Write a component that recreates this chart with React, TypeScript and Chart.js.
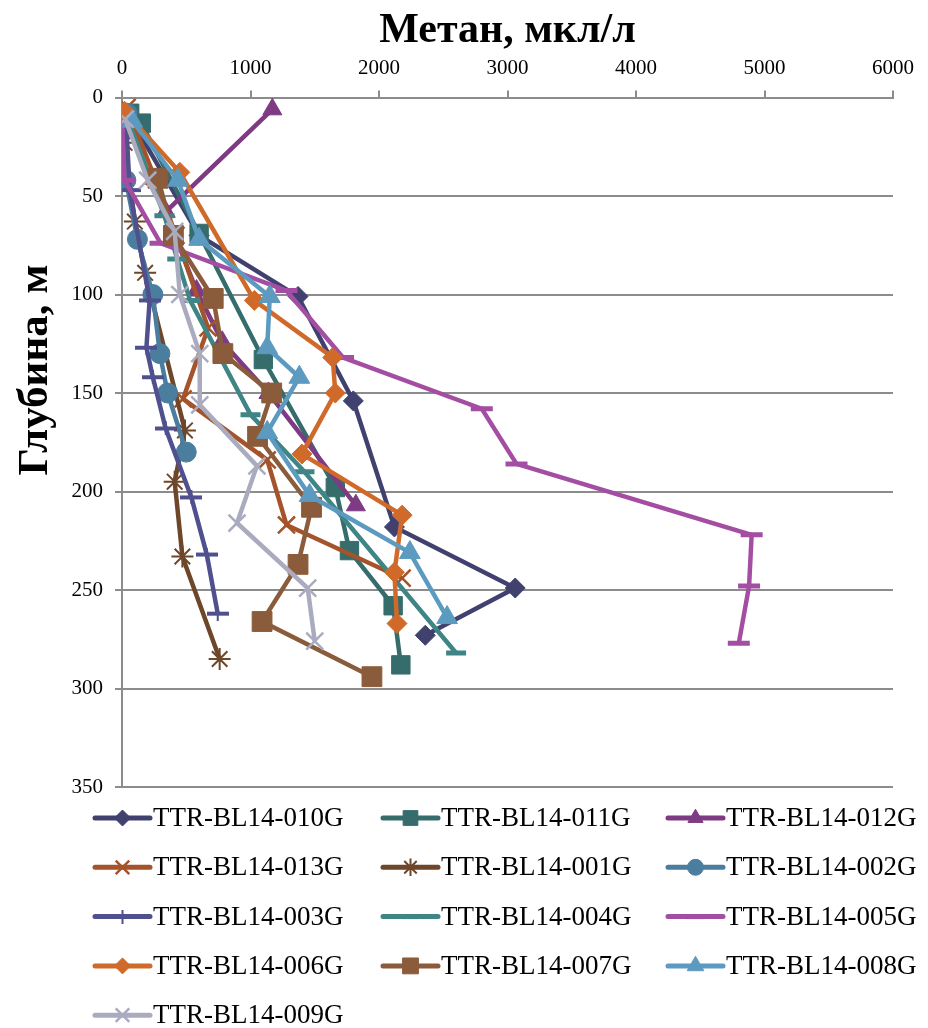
import React, { useEffect, useRef } from 'react';
import { Chart, registerables } from 'chart.js';
import { drawPoint } from 'chart.js/helpers';

Chart.register(...registerables);

const FONT = "'Liberation Serif', 'Times New Roman', serif";

const seriesNames = [
  'TTR-BL14-010G', 'TTR-BL14-011G', 'TTR-BL14-012G',
  'TTR-BL14-013G', 'TTR-BL14-001G', 'TTR-BL14-002G',
  'TTR-BL14-003G', 'TTR-BL14-004G', 'TTR-BL14-005G',
  'TTR-BL14-006G', 'TTR-BL14-007G', 'TTR-BL14-008G',
  'TTR-BL14-009G',
];

const seriesColors = [
  '#41416f', '#366c6c', '#7e3b84',
  '#a5532a', '#6e4629', '#4a7d9e',
  '#50508f', '#3f8585', '#a34ea3',
  '#d06a2a', '#8b5c3b', '#5c9ac0',
  '#ababc0',
];

// methane (мкл/л) and depth (м) for each station
const methane010 = [60, 600, 1370, 1800, 2120, 3060, 2360];
const depth010 = [10, 70, 101, 154, 218, 249, 273];
const methane011 = [60, 150, 600, 1100, 1660, 1770, 2110, 2170];
const depth011 = [8, 13, 69, 133, 198, 230, 258, 288];
const methane012 = [1170, 340, 580, 780, 1140, 1820];
const depth012 = [6, 58, 98, 124, 150, 207];
const methane013 = [40, 250, 420, 670, 475, 1130, 1280, 2180];
const depth013 = [5, 40, 70, 117, 153, 184, 217, 244];
const methane001 = [20, 100, 180, 490, 410, 470, 760];
const depth001 = [23, 63, 89, 169, 195, 233, 285];
const methane002 = [40, 30, 120, 240, 295, 355, 500];
const depth002 = [8, 42, 72, 100, 130, 150, 180];
const methane003 = [30, 60, 215, 190, 240, 340, 540, 660, 745];
const depth003 = [10, 47, 103, 127, 142, 168, 203, 232, 262];
const methane004 = [40, 330, 430, 530, 1000, 1420, 2600];
const depth004 = [10, 60, 82, 103, 161, 190, 282];
const methane005 = [0, 20, 300, 1280, 1720, 2800, 3070, 4900, 4880, 4800];
const depth005 = [12, 42, 74, 98, 132, 158, 186, 222, 248, 277];
const methane006 = [20, 450, 1030, 1640, 1660, 1400, 2180, 2120, 2140];
const depth006 = [7, 38, 103, 132, 150, 181, 212, 241, 267];
const methane007 = [280, 400, 710, 785, 1165, 1055, 1475, 1370, 1090, 1945];
const depth007 = [41, 70, 102, 130, 150, 172, 208, 237, 266, 294];
const methane008 = [80, 435, 600, 1150, 1130, 1380, 1130, 1460, 2240, 2530];
const depth008 = [12, 42, 72, 101, 127, 142, 170, 202, 231, 264];
const methane009 = [25, 200, 410, 450, 605, 605, 1050, 895, 1445, 1500];
const depth009 = [11, 42, 68, 100, 130, 156, 187, 216, 249, 276];

const methaneSeries = [
  methane010, methane011, methane012, methane013, methane001, methane002,
  methane003, methane004, methane005, methane006, methane007, methane008, methane009,
];
const depthSeries = [
  depth010, depth011, depth012, depth013, depth001, depth002,
  depth003, depth004, depth005, depth006, depth007, depth008, depth009,
];

const xTickStep = 1000;
const yTickStep = 50;

function makePlus(color: string): HTMLCanvasElement {
  const c = document.createElement('canvas');
  c.width = 22;
  c.height = 14;
  const g = c.getContext('2d')!;
  g.fillStyle = color;
  g.fillRect(0, 5, 22, 4);
  g.fillRect(10, 0, 2, 14);
  return c;
}

type Marker = { style: any; radius: number; width: number };

function markerFor(i: number, color: string): Marker {
  switch (i) {
    case 0: return { style: 'rectRot', radius: 10, width: 1 };
    case 1: return { style: 'rect', radius: 13, width: 1 };
    case 2: return { style: 'triangle', radius: 11, width: 1 };
    case 3: return { style: 'crossRot', radius: 12, width: 2.5 };
    case 4: return { style: 'star', radius: 11, width: 2 };
    case 5: return { style: 'circle', radius: 10, width: 1 };
    case 6: return { style: makePlus(color), radius: 10, width: 1 };
    case 7: return { style: 'line', radius: 10, width: 5 };
    case 8: return { style: 'line', radius: 11, width: 5 };
    case 9: return { style: 'rectRot', radius: 10, width: 1 };
    case 10: return { style: 'rect', radius: 14, width: 1 };
    case 11: return { style: 'triangle', radius: 12, width: 1 };
    default: return { style: 'crossRot', radius: 12, width: 2.5 };
  }
}

const overlayPlugin = {
  id: 'overlay',
  afterDraw(chart: any) {
    const ctx: CanvasRenderingContext2D = chart.ctx;
    ctx.save();
    // Y axis title
    ctx.translate(36, 370);
    ctx.rotate(-Math.PI / 2);
    ctx.font = `bold 43px ${FONT}`;
    ctx.fillStyle = '#000';
    ctx.textAlign = 'center';
    ctx.textBaseline = 'middle';
    ctx.fillText('Глубина, м', 0, 0);
    ctx.restore();

    // Legend
    const colX = [95, 383, 668];
    const rowY0 = 818;
    const rowH = 49.3;
    chart.data.datasets.forEach((ds: any, i: number) => {
      const col = i % 3;
      const row = Math.floor(i / 3);
      const x0 = colX[col];
      const y = rowY0 + row * rowH;
      ctx.save();
      ctx.strokeStyle = ds.borderColor;
      ctx.lineWidth = 5;
      ctx.lineCap = 'round';
      ctx.beginPath();
      ctx.moveTo(x0, y);
      ctx.lineTo(x0 + 55, y);
      ctx.stroke();
      const m = ds._marker as Marker;
      ctx.fillStyle = ds.borderColor;
      ctx.strokeStyle = ds.borderColor;
      ctx.lineWidth = m.width;
      ctx.lineCap = 'butt';
      if (typeof m.style === 'string') {
        drawPoint(ctx, { pointStyle: m.style, radius: m.radius * 0.8, borderWidth: m.width, rotation: 0 } as any, x0 + 27.5, y);
      } else {
        drawPoint(ctx, { pointStyle: m.style, radius: m.radius, borderWidth: m.width, rotation: 0 } as any, x0 + 27.5, y);
      }
      ctx.fillStyle = '#000';
      ctx.font = `27px ${FONT}`;
      ctx.textAlign = 'left';
      ctx.textBaseline = 'middle';
      ctx.fillText(ds.label, x0 + 58, y + 1);
      ctx.restore();
    });
  },
};

export default function App() {
  const canvasRef = useRef<HTMLCanvasElement | null>(null);

  useEffect(() => {
    document.body.style.margin = '0';
    const canvas = canvasRef.current;
    if (!canvas) return;

    const datasets = seriesNames.map((name, i) => {
      const color = seriesColors[i];
      const m = markerFor(i, color);
      return {
        label: name,
        data: methaneSeries[i].map((x, k) => ({ x, y: depthSeries[i][k] })),
        showLine: true,
        borderColor: color,
        backgroundColor: color,
        borderWidth: 4.5,
        tension: 0,
        pointStyle: m.style,
        pointRadius: m.radius,
        pointBorderWidth: m.width,
        pointBackgroundColor: color,
        pointBorderColor: color,
        order: seriesNames.length - i,
        _marker: m,
      } as any;
    });

    const chart = new Chart(canvas, {
      type: 'scatter',
      data: { datasets },
      options: {
        responsive: false,
        animation: false,
        devicePixelRatio: 1,
        events: [],
        layout: { padding: { top: 0, left: 0, right: 35, bottom: 241 } },
        plugins: {
          legend: { display: false },
          tooltip: { enabled: false },
        },
        scales: {
          x: {
            type: 'linear',
            position: 'top',
            min: 0,
            max: 6000,
            ticks: {
              stepSize: xTickStep,
              font: { family: FONT, size: 21 },
              color: '#000',
              padding: 9,
              maxRotation: 0,
              callback: (v: any) => String(v),
            },
            grid: {
              drawOnChartArea: false,
              drawTicks: true,
              tickLength: 7,
              color: '#8c8c8c',
              lineWidth: 2,
            },
            border: { color: '#8c8c8c', width: 2 },
            title: {
              display: true,
              text: 'Метан, мкл/л',
              font: { family: FONT, size: 42, weight: 'bold' },
              color: '#000',
              padding: { top: 6, bottom: 0 },
            },
            afterFit: (s: any) => { s.height = 97.5; },
          },
          y: {
            type: 'linear',
            reverse: true,
            min: 0,
            max: 350,
            ticks: {
              stepSize: yTickStep,
              font: { family: FONT, size: 21 },
              color: '#000',
              padding: 12,
              callback: (v: any) => String(v),
            },
            grid: {
              color: '#8c8c8c',
              lineWidth: 2,
              tickLength: 7,
            },
            border: { color: '#8c8c8c', width: 2 },
            afterFit: (s: any) => { s.width = 122; },
          },
        },
      } as any,
      plugins: [overlayPlugin],
    });

    return () => chart.destroy();
  }, []);

  return (
    <canvas
      ref={canvasRef}
      width={928}
      height={1028}
      style={{ display: 'block', width: 928, height: 1028 }}
    />
  );
}
